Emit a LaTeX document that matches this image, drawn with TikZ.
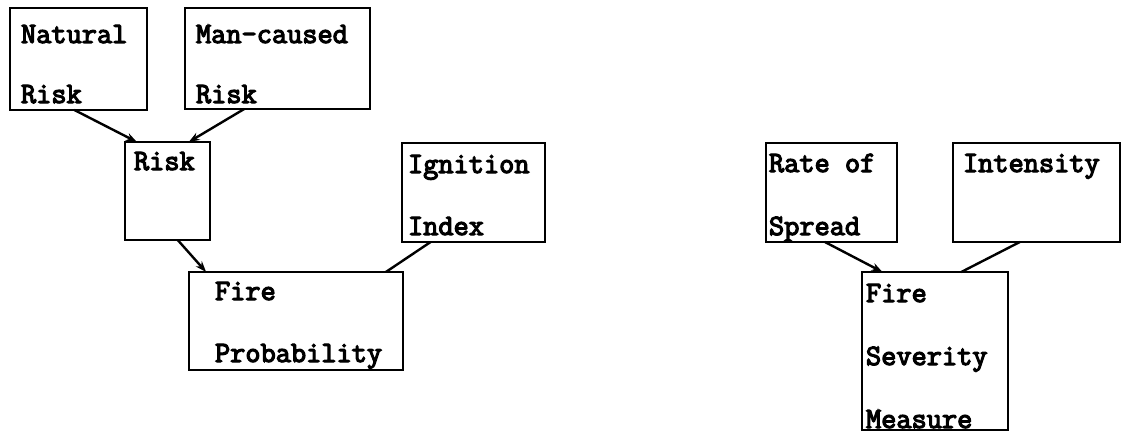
\documentclass[tikz,border=0pt]{standalone}
\usepackage{fontspec}
\newfontfamily\tw[FakeBold=4]{Latin Modern Mono}
\usetikzlibrary{arrows.meta,calc}
\tikzset{
  box/.style={draw=black, line width=2.4pt, inner sep=0pt, outer sep=0pt, anchor=north west},
  lbl/.style={inner sep=0pt, outer sep=0pt, anchor=base west, font=\tw\fontsize{29.5}{32}\selectfont},
  link/.style={line width=2.4pt, line cap=round},
  flow/.style={link, -{Stealth[length=11pt,width=8pt]}}
}
\begin{document}
\begin{tikzpicture}[x={(1pt,0)}, y={(0,-1pt)}]
  \useasboundingbox (0,0) rectangle (1126,433);

  % probability branch
  \node[box, minimum width=137pt, minimum height=102pt] (nat) at (10,8) {};
  \node[box, minimum width=185pt, minimum height=101pt] (man) at (185,8) {};
  \node[box, minimum width=85pt,  minimum height=98pt]  (risk) at (125,142) {};
  \node[box, minimum width=143pt, minimum height=99pt]  (ign) at (402,143) {};
  \node[box, minimum width=214pt, minimum height=98pt]  (prob) at (189,272) {};

  \node[lbl] (natA) at (21,43) {Natural};
  \node[lbl] (natB) at (21,103) {Risk};
  \node[lbl] (manA) at (196,43) {Man-caused};
  \node[lbl] (manB) at (196,103) {Risk};
  \node[lbl] (riskA) at (134,170) {Risk};
  \node[lbl] (ignA) at (408,173) {Ignition};
  \node[lbl] (ignB) at (408,235) {Index};
  \node[lbl] (probA) at (215,300) {Fire};
  \node[lbl] (probB) at (215,362) {Probability};

  % severity branch
  \node[box, minimum width=131pt, minimum height=99pt]  (ros) at (766,143) {};
  \node[box, minimum width=167pt, minimum height=99pt]  (int) at (953,143) {};
  \node[box, minimum width=146pt, minimum height=158pt] (sev) at (862,272) {};

  \node[lbl] (rosA) at (769,172) {Rate of};
  \node[lbl] (rosB) at (769,235) {Spread};
  \node[lbl] (intA) at (963,172) {Intensity};
  \node[lbl] (sevA) at (866,302) {Fire};
  \node[lbl] (sevB) at (866,365) {Severity};
  \node[lbl] (sevC) at (866,428) {Measure};

  % connectors
  \draw[flow] ($(nat.south west)!0.47!(nat.south east)$) -- ($(risk.north west)!0.14!(risk.north east)$);
  \draw[flow] ($(man.south west)!0.32!(man.south east)$) -- ($(risk.north west)!0.75!(risk.north east)$);
  \draw[flow] ($(risk.south west)!0.62!(risk.south east)$) -- ($(prob.north west)!0.08!(prob.north east)$);
  \draw[link] ($(ign.south west)!0.2!(ign.south east)$) -- ($(prob.north west)!0.92!(prob.north east)$);
  \draw[flow] ($(ros.south west)!0.45!(ros.south east)$) -- ($(sev.north west)!0.14!(sev.north east)$);
  \draw[link] ($(int.south west)!0.4!(int.south east)$) -- ($(sev.north west)!0.68!(sev.north east)$);
\end{tikzpicture}
\end{document}
